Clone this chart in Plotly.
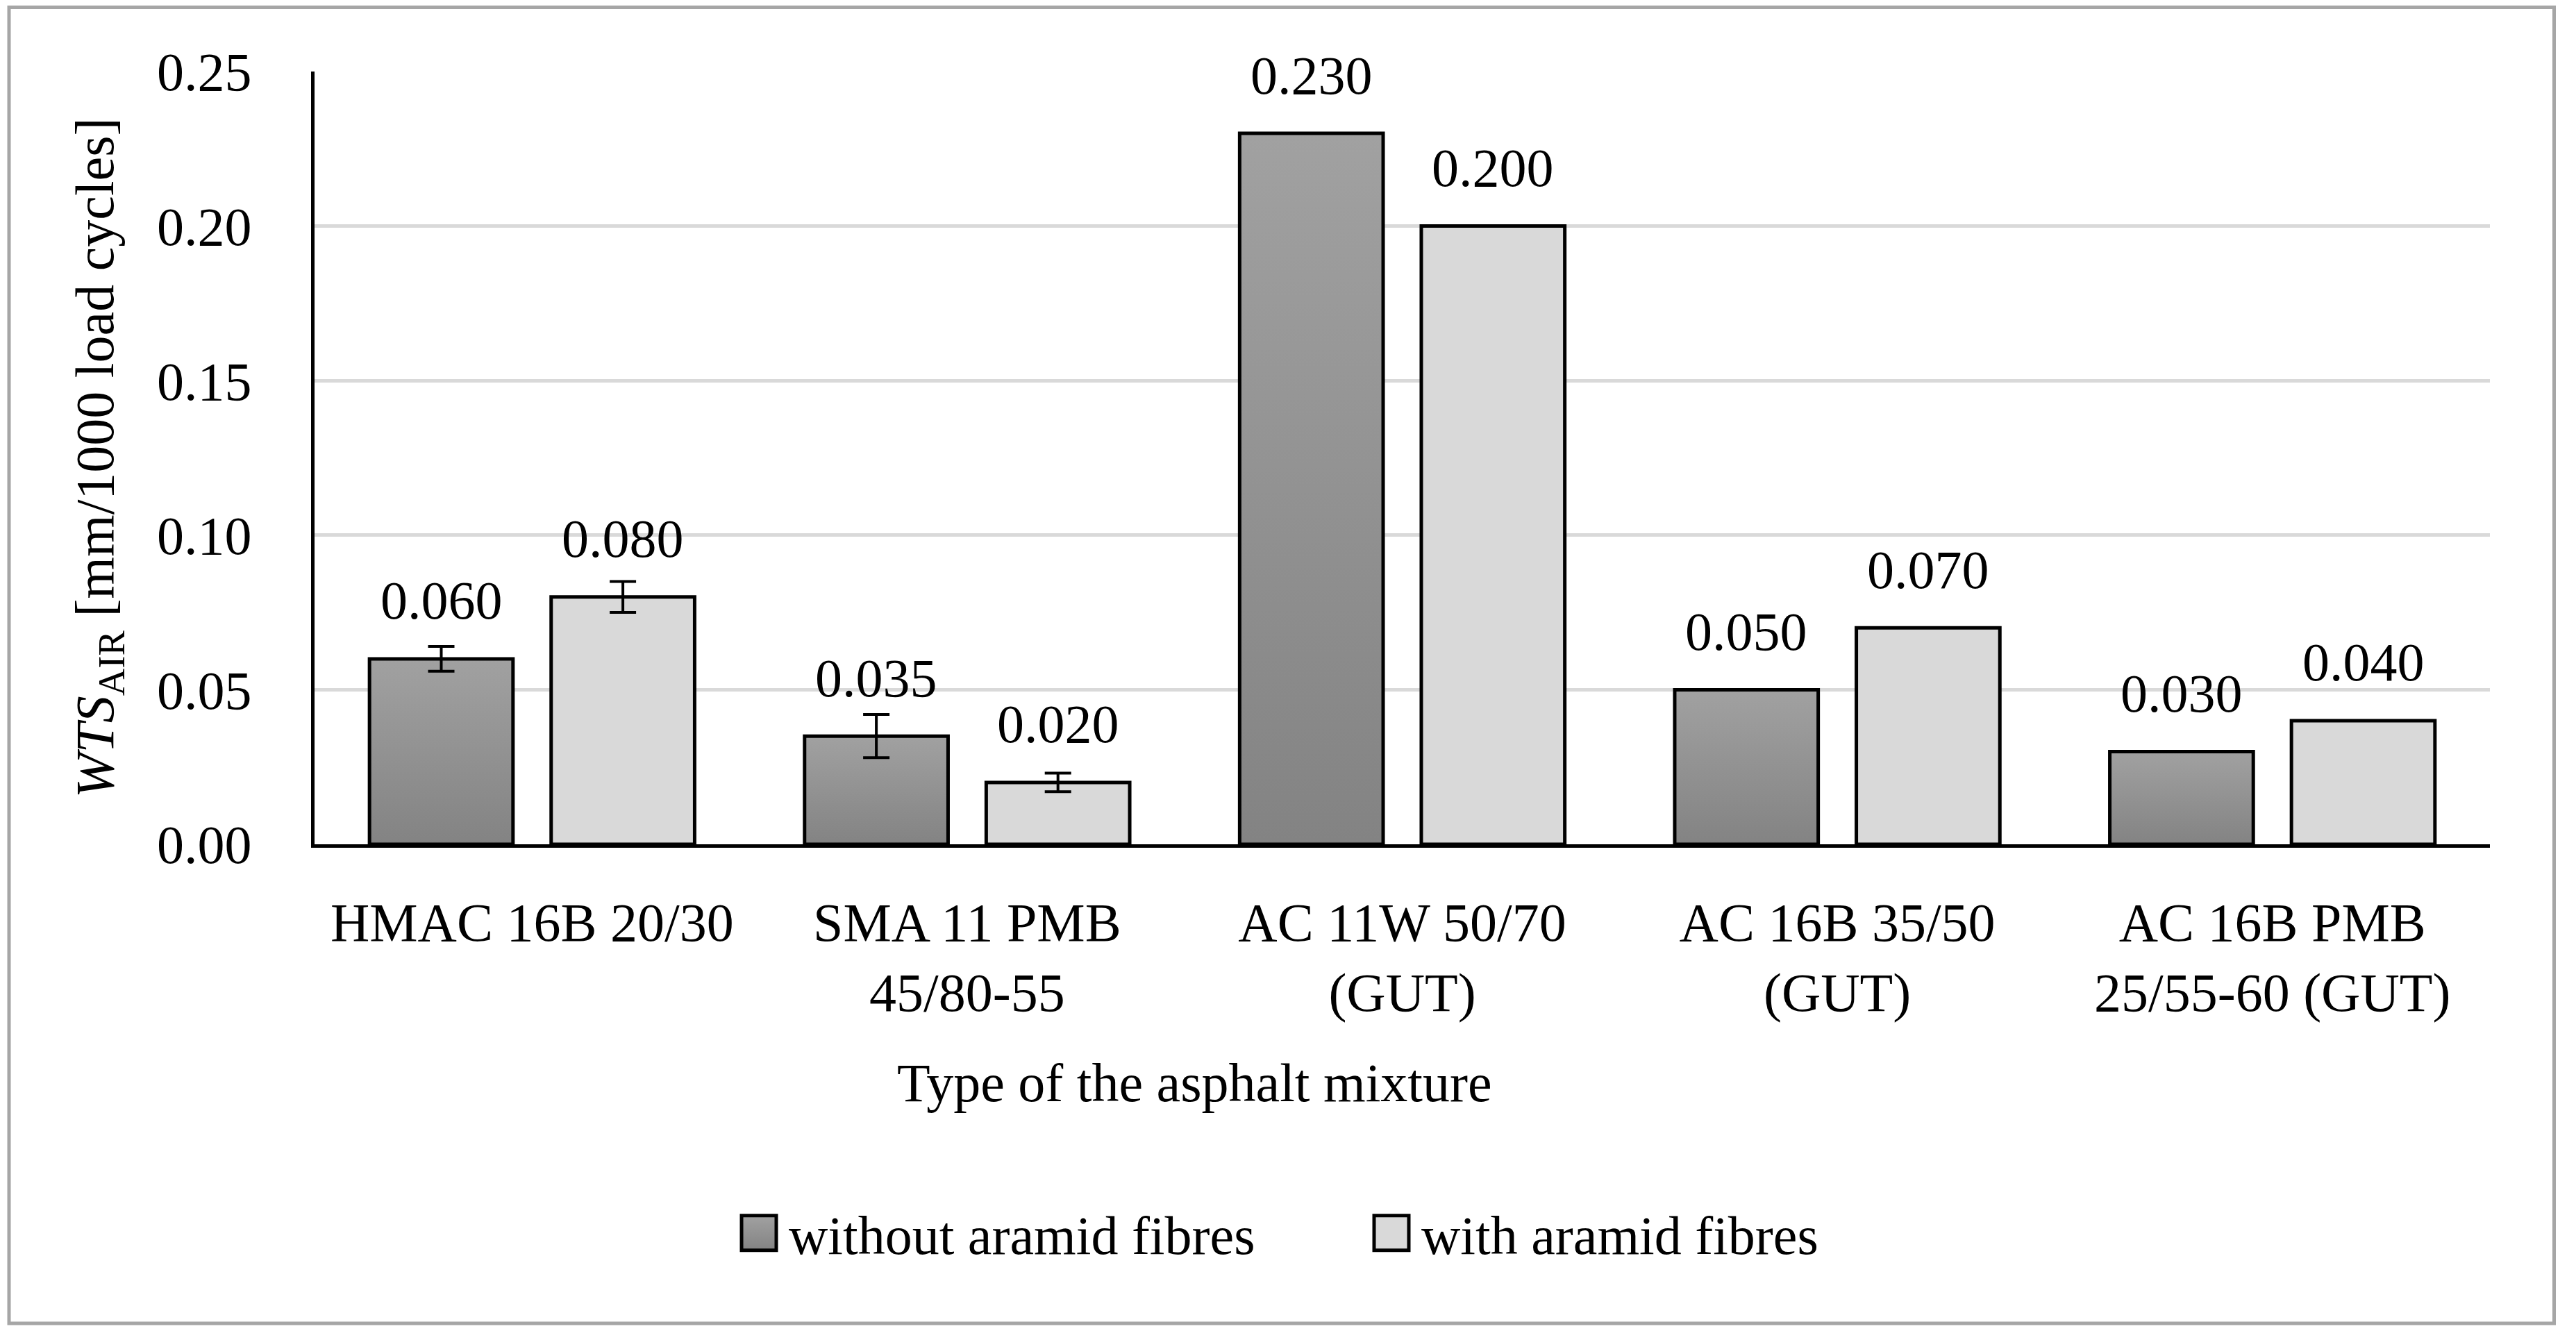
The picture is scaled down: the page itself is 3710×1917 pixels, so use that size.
import plotly.graph_objects as go

# ---------------- data ----------------
categories = [
    "HMAC 16B 20/30",
    "SMA 11 PMB<br>45/80-55",
    "AC 11W 50/70<br>(GUT)",
    "AC 16B 35/50<br>(GUT)",
    "AC 16B PMB<br>25/55-60 (GUT)",
]
series_names = ["without aramid fibres", "with aramid fibres"]
without_fibres = [0.060, 0.035, 0.230, 0.050, 0.030]
with_fibres = [0.080, 0.020, 0.200, 0.070, 0.040]
without_err = [0.004, 0.007, None, None, None]
with_err = [0.005, 0.003, None, None, None]
y_ticks = [0.00, 0.05, 0.10, 0.15, 0.20, 0.25]

x_title = "Type of the asphalt mixture"
y_title = "<i>WTS</i><sub>AIR</sub> [mm/1000 load cycles]"

# ---------------- style ----------------
FONT = "Liberation Serif"
FS = 78
DARK = "#929292"
LIGHT = "#d9d9d9"
BARGAP = 0.165
GROUPGAP = 0.21

W, H = 3710, 1917
ML, MR, MT, MB = 453, 124, 103, 701
PW = W - ML - MR
PH = H - MT - MB

fig = go.Figure()

series = [
    (series_names[0], without_fibres, without_err, DARK, "a"),
    (series_names[1], with_fibres, with_err, LIGHT, "b"),
]

for name, vals, errs, color, grp in series:
    idx_err = [i for i, e in enumerate(errs) if e is not None]
    idx_no = [i for i, e in enumerate(errs) if e is None]
    fig.add_trace(go.Bar(
        x=[categories[i] for i in idx_err],
        y=[vals[i] for i in idx_err],
        name=name, legendgroup=grp, offsetgroup=grp, showlegend=True,
        marker=dict(color=color, line=dict(color="black", width=5)),
        error_y=dict(type="data", array=[errs[i] for i in idx_err], visible=True,
                     color="black", thickness=4, width=19),
        hoverinfo="skip",
    ))
    fig.add_trace(go.Bar(
        x=[categories[i] for i in idx_no],
        y=[vals[i] for i in idx_no],
        name=name, legendgroup=grp, offsetgroup=grp, showlegend=False,
        marker=dict(color=color, line=dict(color="black", width=5)),
        hoverinfo="skip",
    ))

# value labels above bars
off = (1 - BARGAP) / 4
annotations = []
for k, (name, vals, errs, color, grp) in enumerate(series):
    sign = -1 if k == 0 else 1
    for i, v in enumerate(vals):
        annotations.append(dict(
            x=i + sign * off, y=v, xref="x", yref="y",
            text=f"{v:.3f}", showarrow=False,
            yanchor="middle", yshift=84,
            font=dict(family=FONT, size=FS, color="black"),
        ))

# x-axis title (placed like in the original, left of centre)
annotations.append(dict(
    x=(1720 - ML) / PW, y=(MT + PH - 1559) / PH, xref="paper", yref="paper",
    text=x_title, showarrow=False, xanchor="center", yanchor="middle",
    font=dict(family=FONT, size=FS, color="black"),
))

# outer frame
shapes = [dict(
    type="rect", xref="paper", yref="paper",
    x0=(13 - ML) / PW, x1=(3678.5 - ML) / PW,
    y0=(MT + PH - 1906) / PH, y1=(MT + PH - 10.5) / PH,
    line=dict(color="#a6a6a6", width=5), fillcolor="rgba(0,0,0,0)", layer="below",
)]

fig.update_layout(
    width=W, height=H,
    margin=dict(l=ML, r=MR, t=MT, b=MB, autoexpand=False),
    paper_bgcolor="white", plot_bgcolor="white",
    barmode="group", bargap=BARGAP, bargroupgap=GROUPGAP,
    font=dict(family=FONT, size=FS, color="black"),
    showlegend=True,
    legend=dict(
        orientation="h", x=(1050 - ML) / PW, xanchor="left",
        y=(MT + PH - 1776) / PH, yanchor="middle",
        font=dict(family=FONT, size=FS, color="black"),
        itemwidth=76, entrywidth=820, entrywidthmode="pixels",
        bgcolor="rgba(0,0,0,0)", traceorder="normal",
        itemclick=False, itemdoubleclick=False,
    ),
    annotations=annotations,
    shapes=shapes,
)

fig.update_xaxes(
    type="category", categoryorder="array", categoryarray=categories,
    showline=True, linecolor="black", linewidth=5,
    showgrid=False, zeroline=False, ticks="",
    ticklabelstandoff=40,
    tickfont=dict(family=FONT, size=FS, color="black"),
    automargin=False,
)
fig.update_yaxes(
    range=[0, 0.25], tickvals=y_ticks, tickformat=".2f",
    showline=True, linecolor="black", linewidth=5,
    showgrid=True, gridcolor="#d9d9d9", gridwidth=5,
    zeroline=False, ticks="", ticklabelstandoff=70,
    tickfont=dict(family=FONT, size=FS, color="black"),
    title=dict(text=y_title, standoff=38, font=dict(family=FONT, size=FS, color="black")),
    automargin=False,
)

post_script = """
var gd = document.getElementById('{plot_id}');
document.body.style.margin = '0';
function fixLook(){
  var ns = 'http://www.w3.org/2000/svg';
  if(!document.getElementById('darkgrad')){
    var svg = gd.querySelector('svg.main-svg');
    var defs = svg.querySelector('defs');
    if(!defs){ defs = document.createElementNS(ns, 'defs'); svg.insertBefore(defs, svg.firstChild); }
    var lg = document.createElementNS(ns, 'linearGradient');
    lg.setAttribute('id', 'darkgrad');
    lg.setAttribute('x1', '0'); lg.setAttribute('y1', '0');
    lg.setAttribute('x2', '0'); lg.setAttribute('y2', '1');
    var s1 = document.createElementNS(ns, 'stop');
    s1.setAttribute('offset', '0'); s1.setAttribute('stop-color', '#a1a1a1');
    var s2 = document.createElementNS(ns, 'stop');
    s2.setAttribute('offset', '1'); s2.setAttribute('stop-color', '#838383');
    lg.appendChild(s1); lg.appendChild(s2); defs.appendChild(lg);
  }
  gd.querySelectorAll('.legendpoints path').forEach(function(p){
    p.setAttribute('d', 'M25,25H-25V-25H25Z');
    p.style.strokeWidth = '5px';
  });
  gd.querySelectorAll('.barlayer path, .legendpoints path').forEach(function(p){
    if(p.style.fill === 'rgb(146, 146, 146)') p.style.fill = 'url(#darkgrad)';
  });
}
fixLook();
gd.on('plotly_afterplot', fixLook);
"""

fig.write_html("out.html", post_script=post_script, config={"displayModeBar": False})
